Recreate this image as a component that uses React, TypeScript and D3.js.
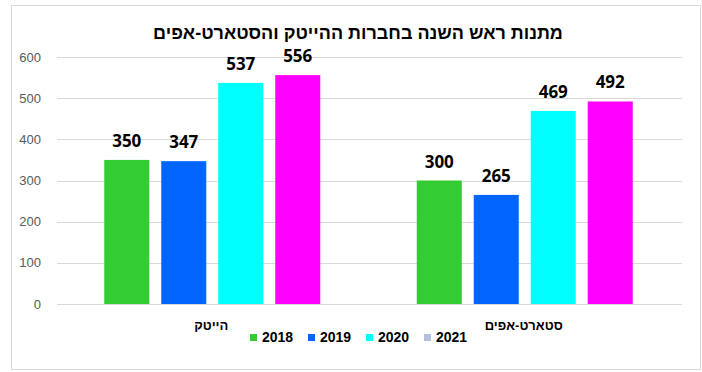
import React, { useRef, useEffect } from 'react';
import * as d3 from 'd3';

// data
const categories = ['הייטק', 'סטארט-אפים'];
const years = ['2018', '2019', '2020', '2021'];
const values2018 = [350, 300];
const values2019 = [347, 265];
const values2020 = [537, 469];
const values2021 = [556, 492];
const yTicks = [0, 100, 200, 300, 400, 500, 600];
const title = 'מתנות ראש השנה בחברות ההייטק והסטארט-אפים';

const barColors = ['#33cc33', '#0066ff', '#00ffff', '#ff00ff'];
// the legend swatch for 2021 is not the bar colour in the original
const legendColors = ['#33cc33', '#0066ff', '#00ffff', '#b4c0e0'];

export default function App() {
  const svgRef = useRef<SVGSVGElement>(null);

  useEffect(() => {
    const svg = d3.select(svgRef.current);
    svg.selectAll('*').remove();

    const width = 702;
    const margin = { top: 57, right: 20, bottom: 68, left: 57 };
    const series = [values2018, values2019, values2020, values2021];

    svg
      .append('rect')
      .attr('x', 11.5)
      .attr('y', 5.5)
      .attr('width', 689)
      .attr('height', 364)
      .attr('fill', '#fff')
      .attr('stroke', '#d9d9d9');

    svg
      .append('text')
      .attr('x', 358)
      .attr('y', 39)
      .attr('text-anchor', 'middle')
      .attr('font-family', 'Liberation Sans, Arial, sans-serif')
      .attr('font-weight', 'bold')
      .attr('font-size', 18)
      .attr('fill', '#000')
      .text(title);

    const y = d3
      .scaleLinear()
      .domain([0, 600])
      .range([304, margin.top]);

    const x0 = d3
      .scaleBand()
      .domain(categories)
      .range([margin.left, width - margin.right])
      .paddingInner(0)
      .paddingOuter(0);

    const x1 = d3
      .scaleBand()
      .domain(years)
      .range([0, 216])
      .paddingInner(0.21)
      .paddingOuter(0);

    const groupOffset = (x0.bandwidth() - 216) / 2 - 1;

    // flat list of bars: one per category and year
    const bars: { cat: string; yr: string; j: number; v: number }[] = [];
    categories.forEach((cat, i) => {
      years.forEach((yr, j) => {
        bars.push({ cat, yr, j, v: series[j][i] });
      });
    });
    const barX = (d: { cat: string; yr: string }) =>
      x0(d.cat)! + groupOffset + x1(d.yr)!;

    // gridlines
    svg
      .append('g')
      .selectAll('line')
      .data(yTicks)
      .enter()
      .append('line')
      .attr('x1', margin.left)
      .attr('x2', width - margin.right)
      .attr('y1', (d) => Math.round(y(d)) + 0.5)
      .attr('y2', (d) => Math.round(y(d)) + 0.5)
      .attr('stroke', '#d9d9d9');

    svg
      .append('g')
      .selectAll('text')
      .data(yTicks)
      .enter()
      .append('text')
      .attr('x', 41)
      .attr('y', (d) => y(d) + 4.5)
      .attr('text-anchor', 'end')
      .attr('font-family', 'Liberation Sans, Arial, sans-serif')
      .attr('font-size', 13)
      .attr('fill', '#595959')
      .text((d) => String(d));

    svg
      .append('g')
      .selectAll('rect')
      .data(bars)
      .enter()
      .append('rect')
      .attr('x', (d) => barX(d))
      .attr('y', (d) => y(d.v))
      .attr('width', x1.bandwidth())
      .attr('height', (d) => y(0) - y(d.v))
      .attr('fill', (d) => barColors[d.j]);

    svg
      .append('g')
      .selectAll('text')
      .data(bars)
      .enter()
      .append('text')
      .attr('x', (d) => barX(d) + x1.bandwidth() / 2)
      .attr('y', (d) => y(d.v) - 13)
      .attr('text-anchor', 'middle')
      .attr('font-family', 'Open Sans, sans-serif')
      .attr('font-weight', 'bold')
      .attr('font-size', 17)
      .attr('fill', '#000')
      .text((d) => String(d.v));

    // category labels
    svg
      .append('g')
      .selectAll('text')
      .data(categories)
      .enter()
      .append('text')
      .attr('x', (d) => x0(d)! + x0.bandwidth() / 2 - 2)
      .attr('y', 330)
      .attr('text-anchor', 'middle')
      .attr('font-family', 'Liberation Sans, Arial, sans-serif')
      .attr('font-weight', 'bold')
      .attr('font-size', 13)
      .attr('fill', '#000')
      .text((d) => d);

    // legend
    const legend = svg
      .append('g')
      .selectAll('g')
      .data(years)
      .enter()
      .append('g')
      .attr('transform', (d, i) => 'translate(' + (250 + i * 58) + ',342)');

    legend
      .append('rect')
      .attr('x', 0)
      .attr('y', -8)
      .attr('width', 7)
      .attr('height', 7)
      .attr('fill', (d, i) => legendColors[i]);

    legend
      .append('text')
      .attr('x', 12)
      .attr('y', 0)
      .attr('font-family', 'Liberation Sans, Arial, sans-serif')
      .attr('font-weight', 'bold')
      .attr('font-size', 14)
      .attr('fill', '#000')
      .text((d) => d);
  }, []);

  return (
    <svg
      ref={svgRef}
      width={702}
      height={372}
      style={{ position: 'absolute', left: 0, top: 0 }}
    ></svg>
  );
}
